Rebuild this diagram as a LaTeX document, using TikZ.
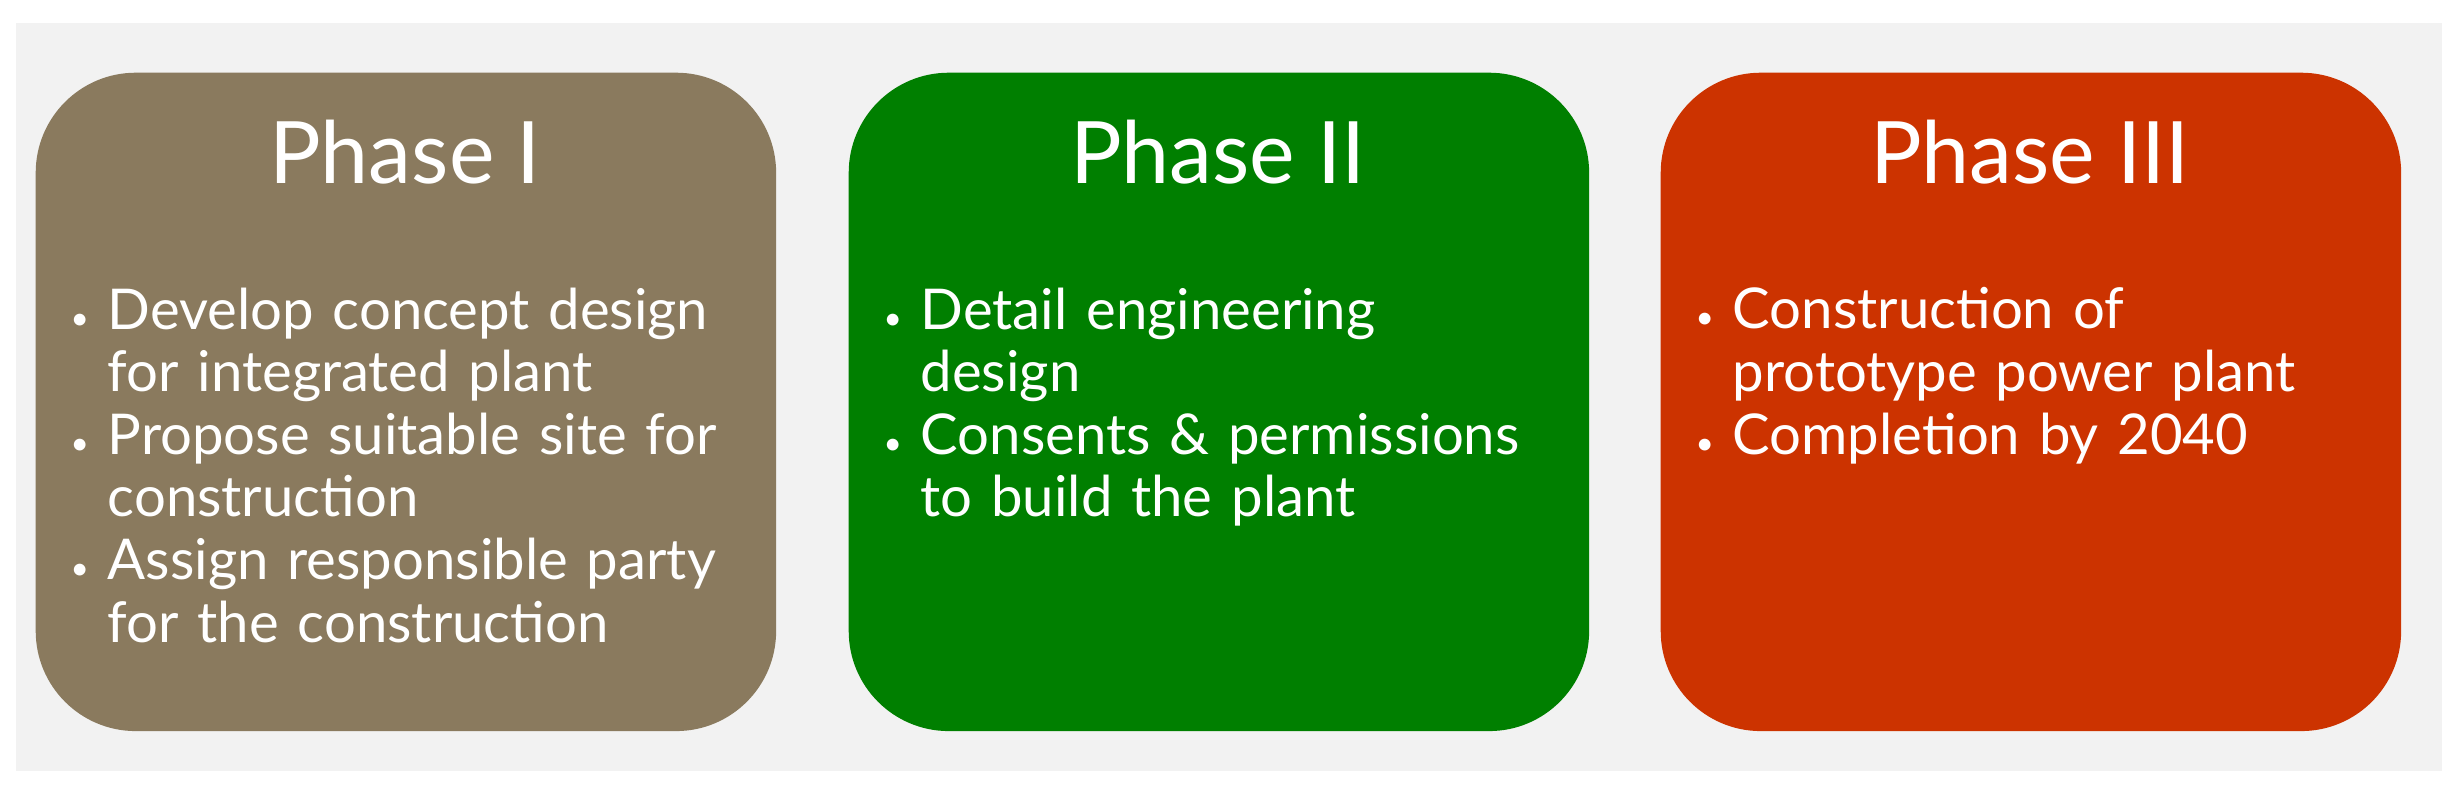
\documentclass[tikz,border=0pt]{standalone}
\usepackage{fontspec}
\setmainfont{Lato}
\begin{document}
\begin{tikzpicture}[x=0.01cm,y=-0.01cm,
 phase/.style={rounded corners=1.0cm,minimum width=7.4cm,minimum height=6.58cm,anchor=north west,inner sep=0pt},
 title/.style={text=white,font=\fontsize{24.5}{28}\selectfont,anchor=center},
 body/.style={text=white,font=\fontsize{16}{17.8}\selectfont,anchor=north west,text width=7cm,align=left,inner sep=0pt}]
\useasboundingbox (0,0) rectangle (2457,791);
\fill[white] (0,0) rectangle (2457,791);
\node[fill=black!5,minimum width=24.25cm,minimum height=7.48cm,anchor=north west,inner sep=0pt] (bg) at (15,22) {};
\definecolor{c1}{HTML}{8A7A5E}\definecolor{c2}{HTML}{007F00}\definecolor{c3}{HTML}{CC3300}
\newcommand{\bl}[2]{\makebox[0.47cm][l]{\hspace{0.1cm}\small•}#1\par\hspace*{0.47cm}#2\par}
\newcommand{\bb}[1]{\makebox[0.47cm][l]{\hspace{0.1cm}\small•}#1\par}
\node[phase,fill=c1] (p1) at (35,72) {};
\node[phase,fill=c2] (p2) at (848,72) {};
\node[phase,fill=c3] (p3) at (1660,72) {};
\node[title] (t1) at (405,152) {Phase I};
\node[title] (t2) at (1218,152) {Phase II};
\node[title] (t3) at (2030,152) {Phase III};
\node[body] (b1) at (60,287) {\bl{Develop concept design}{for integrated plant}\bl{Propose suitable site for}{construction}\bl{Assign responsible party}{for the construction}};
\node[body] (b2) at (873,287) {\bl{Detail engineering}{design}\bl{Consents \& permissions}{to build the plant}};
\node[body] (b3) at (1685,287) {\bl{Construction of}{prototype power plant}\bb{Completion by 2040}};
\end{tikzpicture}
\end{document}
